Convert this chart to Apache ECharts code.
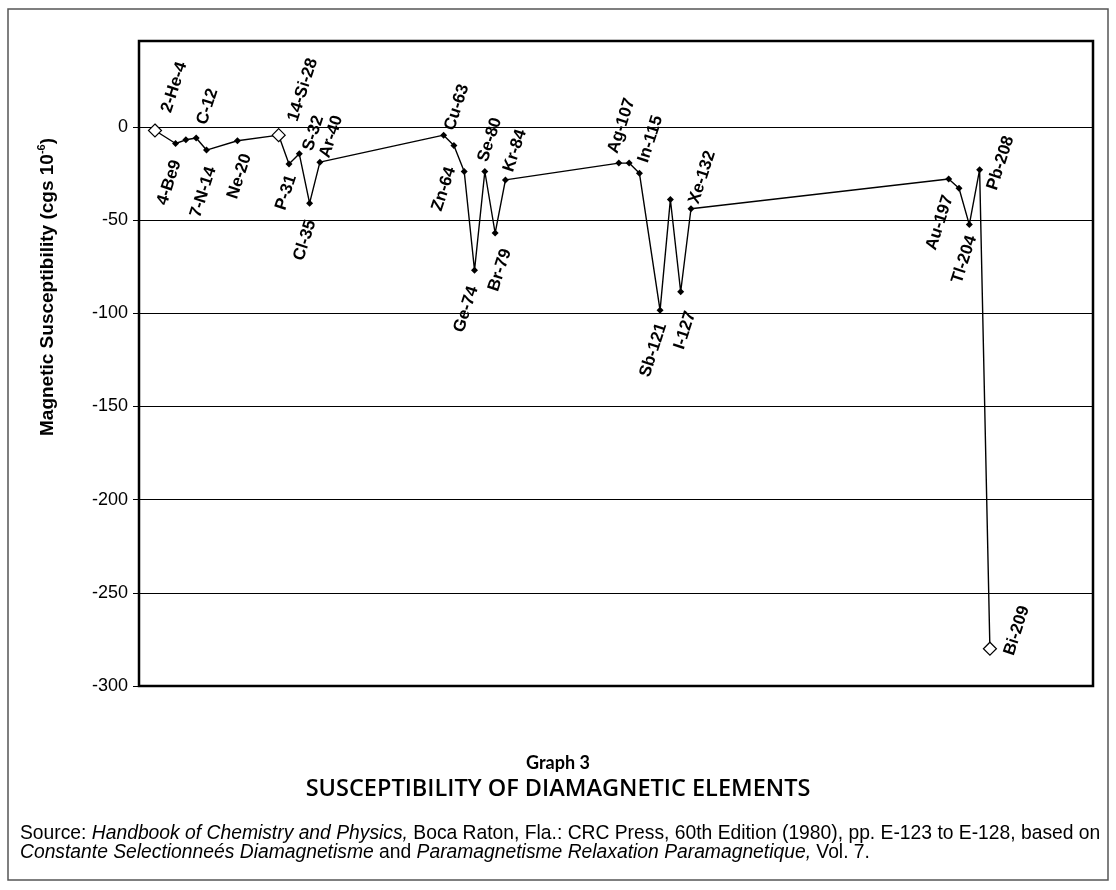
<!DOCTYPE html>
<html>
<head>
<meta charset="utf-8">
<script src="https://cdn.jsdelivr.net/npm/echarts@6/dist/echarts.min.js"></script>
<style>
  html, body { margin: 0; padding: 0; background: #fff; }
  #chart { width: 1116px; height: 890px; }
</style>
</head>
<body>
<div id="chart"></div>
<script>
// Element labels as printed next to each point ('' = point without a label)
const elementLabels = ['2-He-4', '4-Be9', '', 'C-12', '7-N-14', 'Ne-20', '14-Si-28', 'P-31', 'S-32', 'Cl-35',
  'Ar-40', 'Cu-63', 'Zn-64', '', 'Ge-74', 'Se-80', 'Br-79', 'Kr-84', 'Ag-107', '',
  'In-115', 'Sb-121', '', 'I-127', 'Xe-132', 'Au-197', '', 'Tl-204', 'Pb-208', 'Bi-209'];
// Column (slot) of each element along the horizontal axis
const slots = [2, 4, 5, 6, 7, 10, 14, 15, 16, 17,
  18, 30, 31, 32, 33, 34, 35, 36, 47, 48,
  49, 51, 52, 53, 54, 79, 80, 81, 82, 83];
// Magnetic susceptibility, cgs 10^-6
const susceptibility = [-2, -9, -7, -6, -12.5, -7.5, -4.5, -20, -14.5, -41,
  -19, -4.5, -10, -24, -77, -24, -57, -28.5, -19.5, -19.5,
  -25, -98.5, -39, -88.5, -44, -28, -33, -52.5, -23, -280];
// Values printed on the vertical axis
const yTicks = [0, -50, -100, -150, -200, -250, -300];
// Points drawn with an open diamond
const openMarkers = ['2-He-4', '14-Si-28', 'Bi-209'];

// Label placement: side of the point, shift along the text, shift across it
const labelPlace = {
  '2-He-4': ['up', 21, 5],
  '4-Be9': ['down', -16, 6],
  'C-12': ['up', 15, 1],
  '7-N-14': ['down', -15, 10],
  'Ne-20': ['down', -10, 13],
  '14-Si-28': ['up', 18, 9],
  'P-31': ['down', -10, 6],
  'S-32': ['up', 6, 7],
  'Cl-35': ['down', -16, 7],
  'Ar-40': ['up', 6, 3],
  'Cu-63': ['up', 7, 4],
  'Zn-64': ['down', -22, 4],
  'Ge-74': ['down', -16, 4],
  'Se-80': ['up', 9, -5],
  'Br-79': ['down', -12, 16],
  'Kr-84': ['up', 9, 0],
  'Ag-107': ['up', 8, -9],
  'In-115': ['up', 12, 0],
  'Sb-121': ['down', -12, 6],
  'I-127': ['down', -16, 16],
  'Xe-132': ['up', 6, 1],
  'Au-197': ['down', -16, 5],
  'Tl-204': ['down', -10, 6],
  'Pb-208': ['up', -15, 18],
  'Bi-209': ['up', 0, 20]
};

const FONT = "'Liberation Sans', Arial, sans-serif";

const points = slots.map((s, i) => {
  const name = elementLabels[i];
  const open = openMarkers.includes(name);
  const item = {
    value: [s, susceptibility[i]],
    symbol: 'diamond',
    symbolSize: open ? 13 : 7,
    itemStyle: open
      ? { color: '#fff', borderColor: '#000', borderWidth: 1.2 }
      : { color: '#000', borderWidth: 0 }
  };
  const place = labelPlace[name];
  if (name && place) {
    item.label = {
      show: true,
      formatter: name,
      position: 'inside',
      rotate: 72,
      align: place[0] === 'up' ? 'left' : 'right',
      verticalAlign: 'middle',
      offset: [place[1], place[2]],
      fontFamily: FONT,
      fontWeight: 'bold',
      fontSize: 17,
      color: '#000'
    };
  } else {
    item.label = { show: false };
  }
  return item;
});

const chart = echarts.init(document.getElementById('chart'), null, { renderer: 'canvas' });

chart.setOption({
  animation: false,
  backgroundColor: '#fff',
  title: [
    {
      text: 'Graph 3',
      left: 'center',
      top: 749,
      textStyle: { fontFamily: 'Lato', fontWeight: 'bold', fontSize: 18, color: '#000' }
    },
    {
      text: 'SUSCEPTIBILITY OF DIAMAGNETIC ELEMENTS',
      left: 'center',
      top: 772,
      textStyle: { fontFamily: 'Open Sans', fontWeight: 600, fontSize: 23.5, color: '#000' }
    },
    {
      text: '{n|Source: }{i|Handbook of Chemistry and Physics,}{n| Boca Raton, Fla.: CRC Press, 60th Edition (1980), pp. E-123 to E-128, based on}\n' +
            '{i|Constante Selectionneés Diamagnetisme}{n| and }{i|Paramagnetisme Relaxation Paramagnetique,}{n| Vol. 7.}',
      left: 15,
      top: 819,
      textStyle: {
        fontWeight: 'normal',
        rich: {
          n: { fontFamily: FONT, fontSize: 19.3, fontWeight: 'normal', color: '#000', lineHeight: 19 },
          i: { fontFamily: FONT, fontSize: 19.3, fontWeight: 'normal', fontStyle: 'italic', color: '#000', lineHeight: 19 }
        }
      }
    }
  ],
  grid: {
    left: 139, top: 41, width: 954, height: 645,
    show: true, borderColor: '#000', borderWidth: 2.5, backgroundColor: '#fff'
  },
  xAxis: {
    type: 'value',
    min: 0.45,
    max: 93,
    axisLine: { show: false },
    axisTick: { show: false },
    axisLabel: { show: false },
    splitLine: { show: false }
  },
  yAxis: {
    type: 'value',
    min: -300,
    max: 46,
    interval: 50,
    axisLine: { show: false },
    axisTick: { show: true, length: 6, inside: false, lineStyle: { color: '#000', width: 1 }, customValues: yTicks },
    axisLabel: {
      customValues: yTicks,
      margin: 11,
      fontFamily: FONT, fontSize: 18, color: '#000'
    },
    splitLine: { show: true, lineStyle: { color: '#000', width: 1 } }
  },
  graphic: [
    {
      type: 'rect',
      silent: true,
      z: 100,
      shape: { x: 8, y: 9, width: 1100, height: 871 },
      style: { fill: 'none', stroke: '#555', lineWidth: 1.5 }
    },
    {
      type: 'text',
      x: 48, y: 287,
      rotation: Math.PI / 2,
      style: {
        text: '{t|Magnetic Susceptibility (cgs 10}{s|-6}{t|)}',
        align: 'center',
        verticalAlign: 'middle',
        rich: {
          t: { fontFamily: FONT, fontWeight: 'bold', fontSize: 19, fill: '#000', lineHeight: 23 },
          s: { fontFamily: FONT, fontWeight: 'bold', fontSize: 11, fill: '#000', verticalAlign: 'top', lineHeight: 23 }
        }
      }
    }
  ],
  series: [
    {
      type: 'line',
      data: points,
      lineStyle: { color: '#000', width: 1.4 },
      z: 3
    }
  ]
});
</script>
</body>
</html>
